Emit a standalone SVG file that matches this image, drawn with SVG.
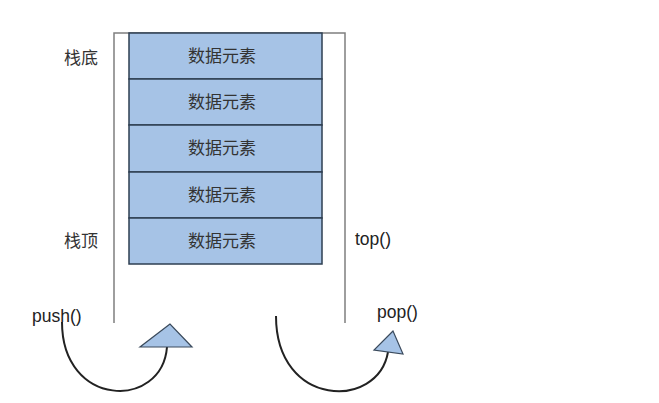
<svg xmlns="http://www.w3.org/2000/svg" width="659" height="403" viewBox="0 0 659 403">
<style>
.cell{fill:#a6c3e6;stroke:#2e3f52;stroke-width:1.5}
.frame{fill:none;stroke:#7f7f7f;stroke-width:1.5}
.t{font-family:"Noto Sans CJK SC","Liberation Sans",sans-serif;font-size:17px;fill:#333}
.lbl{font-family:"Liberation Sans","Noto Sans CJK SC",sans-serif;font-size:17.5px;fill:#222}
.curve{fill:none;stroke:#222;stroke-width:2}
.head{fill:#a6c3e6;stroke:#3a4a5c;stroke-width:1.2}
</style>
<rect width="659" height="403" fill="#fff"/>
<g id="container">
<path class="frame" d="M114 323 V33 H345 V323"/>
</g>
<g id="cell1"><rect class="cell" x="129" y="33" width="193" height="46"/><text class="t" x="222" y="62" text-anchor="middle">数据元素</text></g>
<g id="cell2"><rect class="cell" x="129" y="79" width="193" height="46"/><text class="t" x="222" y="108" text-anchor="middle">数据元素</text></g>
<g id="cell3"><rect class="cell" x="129" y="125" width="193" height="47"/><text class="t" x="222" y="154" text-anchor="middle">数据元素</text></g>
<g id="cell4"><rect class="cell" x="129" y="172" width="193" height="46"/><text class="t" x="222" y="201" text-anchor="middle">数据元素</text></g>
<g id="cell5"><rect class="cell" x="129" y="218" width="193" height="46"/><text class="t" x="222" y="247" text-anchor="middle">数据元素</text></g>
<g id="labels">
<text class="t" x="64" y="64">栈底</text>
<text class="t" x="64" y="247">栈顶</text>
<text class="lbl" x="355" y="245">top()</text>
<text class="lbl" x="377" y="318">pop()</text>
<text class="lbl" x="32" y="322">push()</text>
</g>
<g id="connectors">
<path class="curve" d="M62 322 C62 408 162 410 167 347"/>
<polygon class="head" points="170,324 140,347 192,347"/>
<path class="curve" d="M276 316 C276 408 378 410 388 352"/>
<polygon class="head" points="393,331 374,350 403,354"/>
</g>
</svg>
